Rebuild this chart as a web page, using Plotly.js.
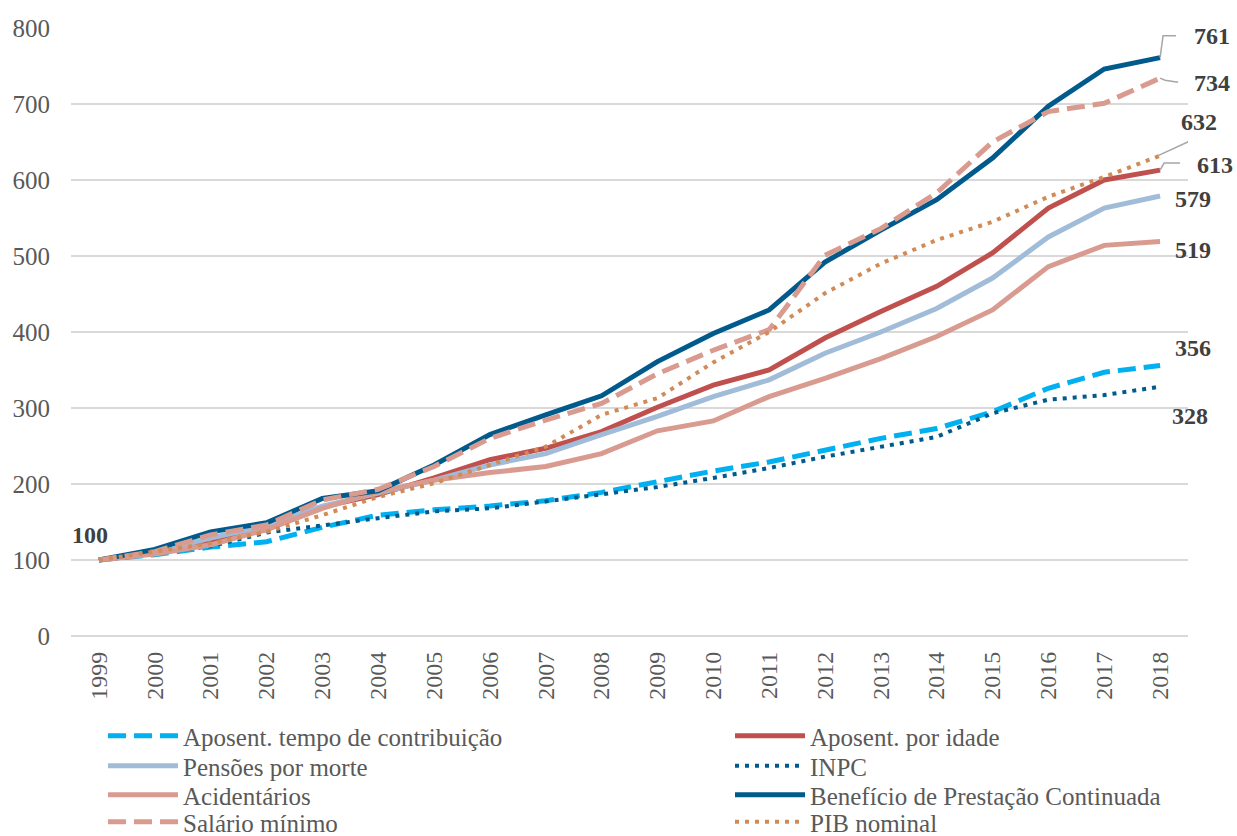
<!DOCTYPE html>
<html>
<head>
<meta charset="utf-8">
<script src="https://cdn.plot.ly/plotly-3.0.1.min.js"></script>
<style>
html,body{margin:0;padding:0;background:#fff;}
#chart{width:1237px;height:836px;}
</style>
</head>
<body>
<div id="chart"></div>
<script>
var years = ['1999','2000','2001','2002','2003','2004','2005','2006','2007','2008','2009','2010','2011','2012','2013','2014','2015','2016','2017','2018'];

var tempoContribuicao = [100,107,117,124,143,159,166,171,178,189,203,217,229,245,260,273,295,326,347,356];
var porIdade          = [100,109,124,140,170,186,208,232,247,269,301,330,350,392,427,460,504,563,600,613];
var pensoesMorte      = [100,110,129,145,171,188,205,225,240,265,289,315,337,372,400,431,471,525,563,579];
var inpc              = [100,109,118,136,146,155,164,168,177,186,196,208,221,236,249,262,293,311,317,328];
var acidentarios      = [100,108,120,140,168,190,205,215,223,240,270,283,315,339,365,394,429,486,514,519];
var bpc               = [100,114,137,149,181,191,225,265,291,316,361,398,429,492,534,574,629,697,746,761];
var salarioMinimo     = [100,111,133,146,179,193,223,260,284,306,345,376,403,501,536,583,650,690,701,734];
var pibNominal        = [100,111,122,137,159,183,201,225,249,291,313,360,400,451,490,521,545,578,604,632];

var seriesNames = ['Aposent. tempo de contribuição','Aposent. por idade','Pensões por morte','INPC','Acidentários','Benefício de Prestação Continuada','Salário mínimo','PIB nominal'];

var serif = 'Liberation Serif';
var W = 1237, H = 836, ML = 71, MR = 49, MT = 28, MB = 200;
var PW = W - ML - MR, PH = H - MT - MB;
function pxX(px){ return (px - ML) / PW; }
function pxY(py){ return (H - MB - py) / PH; }

// legend slots: [column left px, row centre px]
var legendCols = [103, 730];
var legendRows = [736, 766, 795, 822];

function tr(i, ys, color, dash, width){
  var leg = i === 0 ? 'legend' : 'legend' + (i + 1);
  return {x: years, y: ys, name: seriesNames[i], type: 'scatter', mode: 'lines',
          line: {color: color, width: width, dash: dash, shape: 'linear'},
          legend: leg, hoverinfo: 'x+y+name', cliponaxis: false};
}

var data = [
  tr(0, tempoContribuicao, '#00B0F0', '18px,8px', 5),
  tr(1, porIdade, '#C0504D', 'solid', 5),
  tr(2, pensoesMorte, '#A0BCD8', 'solid', 5),
  tr(3, inpc, '#005A8B', '4px,6px', 4),
  tr(4, acidentarios, '#D99B90', 'solid', 5),
  tr(5, bpc, '#005A8B', 'solid', 5),
  tr(6, salarioMinimo, '#D99B90', '18px,8px', 5),
  tr(7, pibNominal, '#D08B56', '4px,6px', 4)
];

var labFont = {family: serif, size: 24, color: '#404040'};
var first = 0, last = years.length - 1;
function lab(idx, yv, opts){
  var a = {x: idx, y: yv, xref: 'x', yref: 'y', text: '<b>' + String(yv) + '</b>', font: labFont,
           showarrow: false, xanchor: 'center', yanchor: 'middle'};
  for (var k in opts) a[k] = opts[k];
  return a;
}
var annotations = [
  lab(first, tempoContribuicao[first], {xshift: -9, yshift: 25}),
  lab(last, bpc[last], {xshift: 52, yshift: 22}),
  lab(last, salarioMinimo[last], {xshift: 52, yshift: -5}),
  lab(last, pibNominal[last], {xshift: 39, yshift: 34}),
  lab(last, porIdade[last], {xshift: 55, yshift: 5}),
  lab(last, pensoesMorte[last], {xshift: 33, yshift: -3}),
  lab(last, acidentarios[last], {xshift: 33, yshift: -8}),
  lab(last, tempoContribuicao[last], {xshift: 33, yshift: 17}),
  lab(last, inpc[last], {xshift: 30, yshift: -29})
];

function leader(idx, yv, path){
  return {type: 'path', xref: 'x', yref: 'y', xsizemode: 'pixel', ysizemode: 'pixel',
          xanchor: idx, yanchor: yv, path: path, layer: 'above',
          line: {color: '#A6A6A6', width: 1.5}};
}
var shapes = [
  leader(last, bpc[last], 'M0,0 L3,22 L16,22'),
  leader(last, salarioMinimo[last], 'M0,0 L5,-2 L18,-4'),
  leader(last, pibNominal[last], 'M-2,0 L37,18'),
  leader(last, porIdade[last], 'M0,0 L4,7 L20,7')
];

var layout = {
  width: W, height: H,
  margin: {l: ML, r: MR, t: MT, b: MB, pad: 0, autoexpand: false},
  paper_bgcolor: '#ffffff', plot_bgcolor: '#ffffff',
  showlegend: true,
  font: {family: serif, color: '#595959'},
  xaxis: {
    type: 'category', range: [-0.5, 19.5],
    tickangle: -90, tickfont: {family: serif, size: 24, color: '#595959'},
    ticklabelstandoff: 10,
    showgrid: false, zeroline: false, showline: false, ticks: '', fixedrange: true
  },
  yaxis: {
    range: [0, 800], tick0: 0, dtick: 100,
    tickfont: {family: serif, size: 25, color: '#595959'},
    ticklabelstandoff: 20,
    showgrid: true, gridcolor: '#D9D9D9', gridwidth: 2,
    zeroline: true, zerolinecolor: '#D9D9D9', zerolinewidth: 2,
    showline: false, ticks: '', ticklen: 0, fixedrange: true
  },
  annotations: annotations,
  shapes: shapes
};

for (var i = 0; i < seriesNames.length; i++) {
  var key = i === 0 ? 'legend' : 'legend' + (i + 1);
  var col = i % 2, row = Math.floor(i / 2);
  layout[key] = {
    x: pxX(legendCols[col]), xanchor: 'left',
    y: pxY(legendRows[row]), yanchor: 'middle',
    orientation: 'v', itemwidth: 70,
    font: {family: serif, size: 25, color: '#595959'},
    bgcolor: 'rgba(0,0,0,0)', borderwidth: 0
  };
}

Plotly.newPlot('chart', data, layout, {displayModeBar: false, staticPlot: true});
</script>
</body>
</html>
